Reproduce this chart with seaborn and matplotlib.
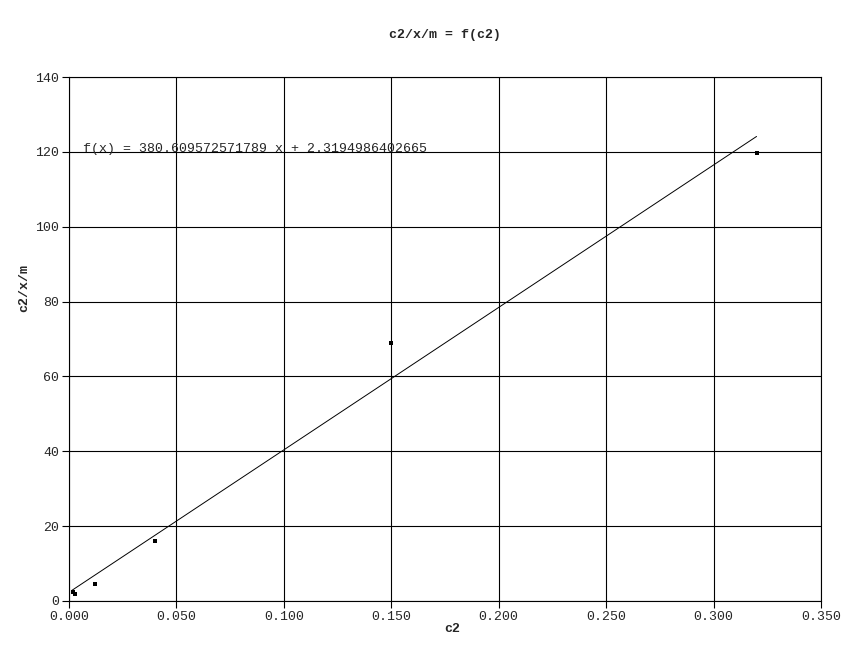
"""c2/x/m = f(c2) scatter with linear trend line."""

import matplotlib
matplotlib.use("Agg")
import matplotlib.pyplot as plt
import numpy as np
import pandas as pd
import seaborn as sns

sns.set_style("white")
plt.rcParams["font.family"] = ["Liberation Mono", "DejaVu Sans Mono"]
plt.rcParams["font.size"] = 9.5

# data
c2 = [0.002, 0.003, 0.012, 0.040, 0.150, 0.320]
c2_x_m = [2.5, 1.9, 4.5, 16.0, 68.9, 119.7]
slope = 380.609572571789
intercept = 2.3194986402665

df = pd.DataFrame({"c2": c2, "c2/x/m": c2_x_m})
trend = pd.DataFrame({"c2": [0.0013, c2[-1]]})
trend["fit"] = slope * trend["c2"] + intercept

fig = plt.figure(figsize=(8.58, 6.61), dpi=100)
ax = fig.add_axes([0.0804, 0.0908, 0.8765, 0.7927])

ax.grid(True, color="black", linewidth=0.8)
ax.set_axisbelow(True)

sns.lineplot(data=trend, x="c2", y="fit", color="black", linewidth=0.7, ax=ax)
sns.scatterplot(data=df, x="c2", y="c2/x/m", marker="s", s=7, color="black",
                edgecolor="black", linewidth=0, ax=ax, zorder=3)

ax.set_xlim(0, 0.35)
ax.set_ylim(0, 140)
ax.set_xticks(np.arange(0, 0.351, 0.05))
ax.set_xticklabels([f"{v:.3f}" for v in np.arange(0, 0.351, 0.05)])
ax.set_yticks(range(0, 141, 20))
ax.tick_params(direction="out", length=5, width=0.8, color="black",
               left=True, bottom=True, labelsize=9.5, pad=2)
for sp in ax.spines.values():
    sp.set_color("black")
    sp.set_linewidth(0.8)

ax.set_xlabel("c2", fontweight="bold")
ax.set_ylabel("c2/x/m", fontweight="bold")
ax.xaxis.set_label_coords(0.509, -0.042)
ax.yaxis.set_label_coords(-0.052, 0.597)
fig.text(0.5187, 0.947, "c2/x/m = f(c2)", fontweight="bold", fontsize=9.5,
         ha="center", va="center")

ax.text(0.0065, 120.7, f"f(x) = {slope} x + {intercept}", va="center",
        ha="left", fontsize=9.5)

fig.savefig("out.png", dpi=100)
plt.close(fig)
